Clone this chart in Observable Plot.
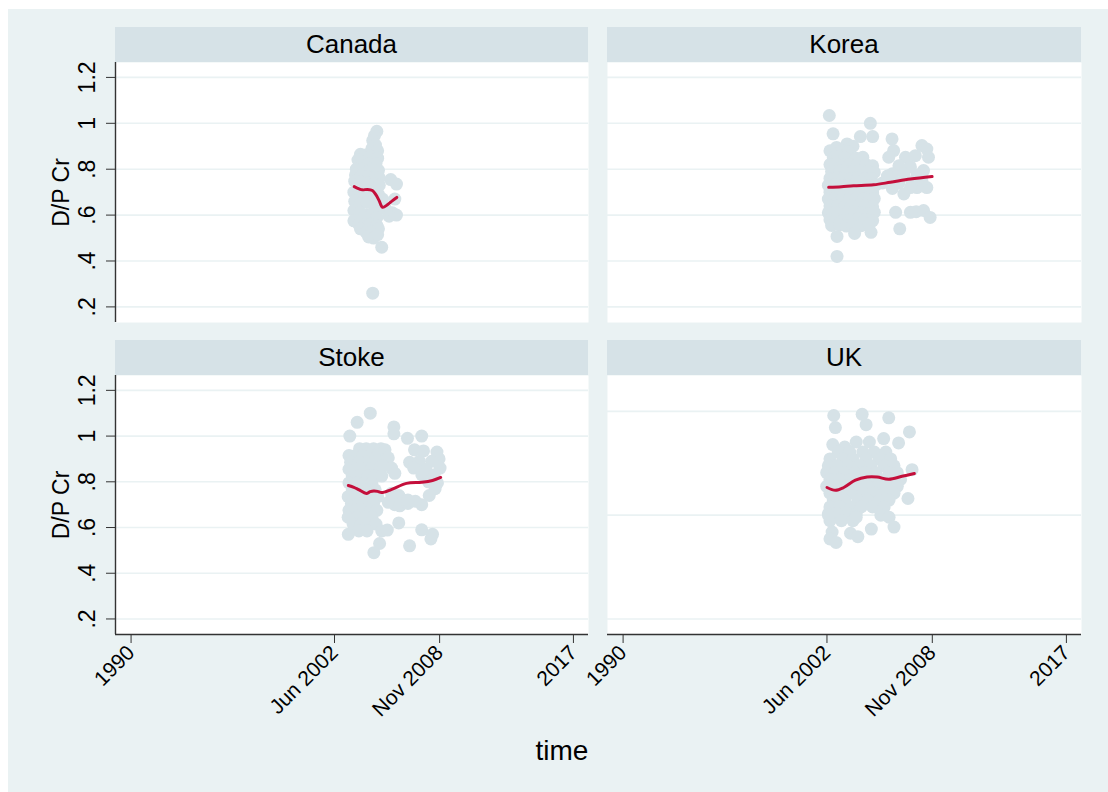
<!DOCTYPE html>
<html>
<head>
<meta charset="utf-8">
<script src="https://cdn.jsdelivr.net/npm/d3@7"></script>
<script src="https://cdn.jsdelivr.net/npm/@observablehq/plot@0.6"></script>
<style>
  body { margin: 0; background: #ffffff; }
  #chart { position: relative; width: 1108px; height: 792px; overflow: hidden;
           font-family: "Liberation Sans", Arial, sans-serif; }
  #bg { position: absolute; left: 8px; top: 9px; right: 0; bottom: 0; background: #EAF2F3; }
  .strip { position: absolute; height: 35px; background: #D6E2E7; color: #000;
           font-size: 26px; line-height: 35px; text-align: center; }
  .panel { position: absolute; }
  .panel svg { overflow: visible; }
  #xtitle { position: absolute; left: 502px; width: 120px; top: 737px; text-align: center;
            font-size: 28px; line-height: 28px; color: #000; }
</style>
</head>
<body>
<div id="chart"><div id="bg"></div></div>
<script>
// ---- data: (time in decimal years, D/P Cr) ----
const canadaPoints = [
  [2005.0,0.965],[2004.85,0.945],[2004.75,0.925],[2004.92,0.905],[2004.7,0.89],[2005.05,0.88],
  [2004.0,0.865],[2004.3,0.862],[2004.6,0.855],[2005.05,0.848],
  [2003.85,0.84],[2004.2,0.83],[2004.5,0.822],[2004.95,0.825],
  [2003.75,0.80],[2004.1,0.80],[2004.45,0.79],[2004.75,0.80],[2005.1,0.795],
  [2003.7,0.775],[2004.05,0.77],[2004.35,0.768],[2004.9,0.765],[2005.15,0.762],
  [2003.65,0.748],[2004.0,0.745],[2004.45,0.74],[2004.8,0.735],[2005.15,0.73],
  [2005.85,0.755],[2006.2,0.735],[2006.1,0.67],[2005.95,0.61],[2006.2,0.60],[2005.75,0.595],
  [2003.6,0.70],[2003.9,0.69],[2004.3,0.70],[2004.7,0.69],[2005.1,0.69],[2005.35,0.67],
  [2005.3,0.64],[2005.55,0.625],
  [2003.65,0.66],[2004.0,0.65],[2004.4,0.655],[2004.8,0.645],[2005.1,0.63],
  [2003.6,0.62],[2003.95,0.61],[2004.3,0.60],[2004.7,0.605],[2005.0,0.59],
  [2003.6,0.575],[2003.9,0.56],[2004.25,0.555],[2004.6,0.56],[2005.0,0.555],
  [2004.0,0.54],[2004.35,0.525],[2004.7,0.53],[2005.1,0.54],
  [2004.5,0.505],[2004.8,0.50],[2005.05,0.515],[2005.3,0.46],[2004.75,0.26]
];
const canadaFit = [
  [2003.62,0.724],[2003.92,0.714],[2004.12,0.710],[2004.43,0.712],[2004.73,0.707],[2004.94,0.689],
  [2005.14,0.663],[2005.35,0.634],[2005.65,0.645],[2005.96,0.663],[2006.22,0.677]
];

const koreaPoints = [
  [2002.56,1.034],[2002.79,0.954],[2005.06,1.0],[2004.45,0.942],[2005.2,0.942],[2003.64,0.91],
  [2002.6,0.88],[2003.0,0.895],[2004.0,0.90],
  [2003.3,0.88],[2003.7,0.875],
  [2002.8,0.85],[2003.1,0.855],[2003.5,0.85],[2004.2,0.848],[2004.6,0.852],
  [2002.6,0.82],[2003.0,0.822],[2003.4,0.818],[2003.8,0.82],[2004.3,0.824],[2004.8,0.82],[2005.2,0.815],
  [2002.7,0.79],[2003.2,0.792],[2003.6,0.788],[2004.0,0.79],[2004.5,0.794],[2004.9,0.79],[2005.3,0.786],
  [2002.6,0.76],[2003.0,0.762],[2003.4,0.758],[2003.9,0.76],[2004.3,0.762],[2004.7,0.758],[2005.1,0.76],
  [2002.5,0.73],[2002.9,0.732],[2003.3,0.728],[2003.7,0.73],[2004.1,0.734],[2004.6,0.73],[2005.0,0.728],[2005.4,0.732],[2005.8,0.74],
  [2002.6,0.70],[2003.1,0.702],[2003.5,0.698],[2003.9,0.70],[2004.4,0.704],[2004.8,0.70],[2005.2,0.696],
  [2002.5,0.67],[2002.9,0.672],[2003.3,0.668],[2003.8,0.67],[2004.2,0.674],[2004.6,0.67],[2005.0,0.666],[2005.3,0.672],
  [2002.6,0.64],[2003.1,0.642],[2003.5,0.638],[2003.9,0.64],[2004.4,0.644],[2004.8,0.64],[2005.2,0.636],
  [2002.5,0.61],[2002.9,0.612],[2003.3,0.608],[2003.7,0.61],[2004.1,0.614],[2004.6,0.61],[2005.0,0.606],[2005.3,0.612],
  [2002.6,0.58],[2003.0,0.582],[2003.4,0.578],[2003.9,0.58],[2004.3,0.584],[2004.7,0.58],[2005.2,0.576],
  [2002.7,0.555],[2003.2,0.558],[2003.6,0.552],[2004.0,0.556],[2004.5,0.554],[2005.0,0.56],
  [2006.38,0.932],[2006.48,0.881],[2006.18,0.852],[2007.2,0.852],[2007.8,0.859],[2008.2,0.903],
  [2008.5,0.888],[2008.6,0.852],[2008.3,0.794],[2007.5,0.81],[2006.8,0.815],[2006.4,0.78],
  [2007.1,0.78],[2007.9,0.775],[2006.4,0.716],[2007.1,0.692],[2007.9,0.72],[2008.5,0.72],
  [2006.8,0.74],[2007.6,0.745],[2006.0,0.745],[2008.2,0.75],[2006.1,0.77],[2007.5,0.72],
  [2006.6,0.612],[2007.5,0.612],[2007.85,0.615],[2008.3,0.62],[2008.7,0.59],[2006.85,0.54],
  [2003.03,0.507],[2004.1,0.52],[2005.1,0.525],[2003.03,0.42]
];
const koreaFit = [
  [2002.52,0.721],[2003.3,0.724],[2004.04,0.728],[2005.26,0.732],[2006.28,0.743],[2007.5,0.757],[2008.82,0.768]
];

const stokePoints = [
  [2004.6,1.10],[2003.8,1.06],[2003.35,1.0],[2006.04,1.04],[2006.04,1.01],
  [2003.95,0.945],[2004.35,0.945],[2004.8,0.945],[2005.25,0.945],
  [2003.3,0.915],[2003.7,0.915],[2004.15,0.915],[2004.6,0.915],[2005.05,0.915],
  [2003.4,0.885],[2003.9,0.885],[2004.4,0.885],[2004.85,0.885],[2005.3,0.885],
  [2003.3,0.855],[2003.75,0.855],[2004.2,0.855],[2004.65,0.855],[2005.1,0.855],
  [2003.5,0.825],[2003.95,0.825],[2004.45,0.825],[2004.9,0.825],
  [2003.3,0.795],[2003.8,0.795],[2004.25,0.795],[2004.7,0.795],
  [2003.5,0.765],[2003.95,0.765],[2004.45,0.765],[2004.9,0.765],
  [2003.25,0.735],[2003.7,0.735],[2004.15,0.735],[2004.6,0.735],[2005.05,0.735],
  [2003.45,0.705],[2003.9,0.705],[2004.35,0.705],[2004.8,0.705],
  [2003.3,0.675],[2003.75,0.675],[2004.2,0.675],[2004.65,0.675],[2005.0,0.675],
  [2003.25,0.645],[2003.8,0.645],[2004.3,0.645],[2004.7,0.645],
  [2003.55,0.615],[2004.05,0.615],[2004.5,0.615],[2004.95,0.615],
  [2003.9,0.585],[2004.4,0.585],[2005.3,0.585],[2003.26,0.57],
  [2005.5,0.94],[2005.7,0.905],[2005.4,0.87],[2005.9,0.86],[2006.1,0.837],[2005.3,0.825],
  [2005.9,0.75],[2006.35,0.74],[2006.6,0.72],[2006.1,0.70],[2005.7,0.71],[2006.4,0.695],[2006.9,0.705],
  [2006.34,0.62],[2005.64,0.589],[2005.17,0.53],[2004.82,0.49],
  [2006.87,0.99],[2007.74,1.0],[2007.3,0.94],[2007.85,0.935],[2008.67,0.93],[2008.8,0.90],
  [2008.86,0.86],[2008.35,0.89],[2007.6,0.89],[2007.0,0.885],[2007.25,0.86],[2008.0,0.855],
  [2008.5,0.83],[2007.75,0.83],[2008.15,0.80],[2008.7,0.795],[2008.56,0.77],[2008.2,0.74],
  [2007.74,0.70],[2007.35,0.715],[2006.9,0.72],
  [2007.74,0.59],[2008.4,0.57],[2008.3,0.55],[2007.0,0.52]
];
const stokeFit = [
  [2003.26,0.784],[2003.6,0.776],[2003.89,0.766],[2004.36,0.749],[2004.6,0.757],[2004.82,0.760],
  [2005.05,0.758],[2005.29,0.753],[2005.88,0.766],[2006.81,0.793],[2007.74,0.798],[2008.4,0.806],[2008.9,0.819]
];

const ukPoints = [
  [2002.83,1.09],[2004.56,1.095],[2004.8,1.05],[2006.18,1.08],[2002.93,1.037],[2007.44,1.018],
  [2002.77,0.963],[2003.5,0.952],[2004.2,0.974],[2005.0,0.974],[2005.87,0.989],[2006.78,0.97],
  [2003.1,0.93],[2003.8,0.93],[2004.6,0.93],[2005.3,0.93],[2006.0,0.93],
  [2002.6,0.90],[2003.4,0.90],[2004.0,0.90],[2004.8,0.90],[2005.6,0.90],[2006.3,0.90],
  [2002.5,0.87],[2003.0,0.87],[2003.7,0.87],[2004.4,0.87],[2005.1,0.87],[2005.9,0.87],[2006.5,0.87],
  [2002.4,0.84],[2002.9,0.84],[2003.5,0.84],[2004.1,0.84],[2004.7,0.84],[2005.4,0.84],[2006.2,0.84],[2006.7,0.84],
  [2002.6,0.81],[2003.2,0.81],[2003.9,0.81],[2004.5,0.81],[2005.0,0.81],[2005.7,0.81],[2006.4,0.81],[2006.9,0.81],
  [2002.4,0.78],[2002.9,0.78],[2003.6,0.78],[2004.2,0.78],[2004.9,0.78],[2005.5,0.78],[2006.1,0.78],[2006.7,0.78],
  [2002.6,0.75],[2003.3,0.75],[2004.0,0.75],[2004.6,0.75],[2005.3,0.75],[2005.9,0.75],[2006.5,0.75],
  [2002.8,0.72],[2003.5,0.72],[2004.3,0.72],[2004.9,0.72],[2005.6,0.72],[2006.2,0.72],
  [2002.6,0.69],[2003.2,0.69],[2003.9,0.69],[2004.5,0.69],[2005.2,0.69],[2005.9,0.69],
  [2002.5,0.66],[2003.0,0.66],[2003.7,0.66],[2004.2,0.66],
  [2002.6,0.63],[2003.3,0.63],[2004.0,0.63],
  [2007.6,0.853],[2007.35,0.727],[2002.51,0.654],[2004.2,0.645],[2005.7,0.654],[2006.2,0.645],
  [2006.5,0.602],[2005.12,0.593],[2003.85,0.575],[2004.3,0.56],[2002.73,0.58],[2002.6,0.55],[2002.97,0.535]
];
const ukFit = [
  [2002.42,0.775],[2002.93,0.763],[2003.44,0.775],[2004.15,0.807],[2004.86,0.821],[2005.47,0.821],
  [2006.18,0.811],[2006.99,0.824],[2007.74,0.836]
];

// ---- axes ----
const yTickValues = [0.2, 0.4, 0.6, 0.8, 1.0, 1.2];
const yTickLabels = [".2", ".4", ".6", ".8", "1", "1.2"];
const ukGridValues = [0.2, 0.654, 1.108];
const xTickValues = [1990, 2002.417, 2008.833, 2017];
const xTickLabels = ["1990", "Jun 2002", "Nov 2008", "2017"];
const xDomain = [1989.05, 2017.92];
const yDomain = [0.132, 1.265];
const yTitle = "D/P Cr";
const xTitle = "time";

const yLabel = new Map(yTickValues.map((v, i) => [v, yTickLabels[i]]));
const xLabel = new Map(xTickValues.map((v, i) => [v, xTickLabels[i]]));

const panels = [
  {name: "Canada", points: canadaPoints, fit: canadaFit, grid: yTickValues, col: 0, row: 0},
  {name: "Korea",  points: koreaPoints,  fit: koreaFit,  grid: yTickValues, col: 1, row: 0},
  {name: "Stoke",  points: stokePoints,  fit: stokeFit,  grid: yTickValues, col: 0, row: 1},
  {name: "UK",     points: ukPoints,     fit: ukFit,     grid: ukGridValues, col: 1, row: 1}
];

// panel geometry (plot regions)
const colLeft = [115, 607];
const colWidth = [473, 474];
const rowTop = [62, 375];
const rowHeight = [260, 259];
const stripHeight = 35;

const chart = document.getElementById("chart");
const axisColor = "#333333";

for (const p of panels) {
  const left = p.col === 0;
  const bottom = p.row === 1;
  const marginLeft = left ? 115 : 30;
  const marginRight = 14;
  const marginBottom = bottom ? 110 : 0;
  const width = marginLeft + colWidth[p.col] + marginRight;
  const height = rowHeight[p.row] + marginBottom;

  const marks = [
    Plot.frame({fill: "white", stroke: "none"}),
    Plot.ruleY(p.grid, {stroke: "#EAF2F3", strokeWidth: 1.6}),
    Plot.dot(p.points, {x: d => d[0], y: d => d[1], r: 6.5, fill: "#D6E2E7", stroke: "none"}),
    Plot.line(p.fit, {x: d => d[0], y: d => d[1], stroke: "#C40F3B", strokeWidth: 3, curve: "catmull-rom"})
  ];
  if (left) {
    marks.push(
      Plot.ruleX([xDomain[0]], {stroke: axisColor, strokeWidth: 1.4}),
      Plot.axisY({ticks: yTickValues, tickFormat: d => yLabel.get(d), tickRotate: -90,
                  tickSize: 9, tickPadding: 12, label: null, stroke: axisColor, fontSize: 23}),
      // vertical axis title, centred on the plot region
      Plot.text([yTitle], {text: d => d, frameAnchor: "left", dx: -54, rotate: -90,
                           textAnchor: "middle", lineAnchor: "middle", fontSize: 23})
    );
  }
  if (bottom) {
    marks.push(
      Plot.ruleY([yDomain[0]], {stroke: axisColor, strokeWidth: 1.4}),
      Plot.axisX({ticks: xTickValues, tickFormat: d => xLabel.get(d), tickRotate: -45,
                  tickSize: 9, label: null, stroke: axisColor, fontSize: 21})
    );
  }

  const svg = Plot.plot({
    width, height,
    marginLeft, marginRight, marginTop: 0, marginBottom,
    x: {type: "linear", domain: xDomain, axis: null},
    y: {type: "linear", domain: yDomain, axis: null},
    style: {background: "transparent", fontFamily: "'Liberation Sans', Arial, sans-serif",
            fontSize: "21px", color: "#000", overflow: "visible"},
    marks
  });

  const wrap = document.createElement("div");
  wrap.className = "panel";
  wrap.style.left = (colLeft[p.col] - marginLeft) + "px";
  wrap.style.top = rowTop[p.row] + "px";
  wrap.appendChild(svg);
  chart.appendChild(wrap);

  const strip = document.createElement("div");
  strip.className = "strip";
  strip.style.left = colLeft[p.col] + "px";
  strip.style.width = colWidth[p.col] + "px";
  strip.style.top = (rowTop[p.row] - stripHeight) + "px";
  strip.textContent = p.name;
  chart.appendChild(strip);
}

const xt = document.createElement("div");
xt.id = "xtitle";
xt.textContent = xTitle;
chart.appendChild(xt);
</script>
</body>
</html>
